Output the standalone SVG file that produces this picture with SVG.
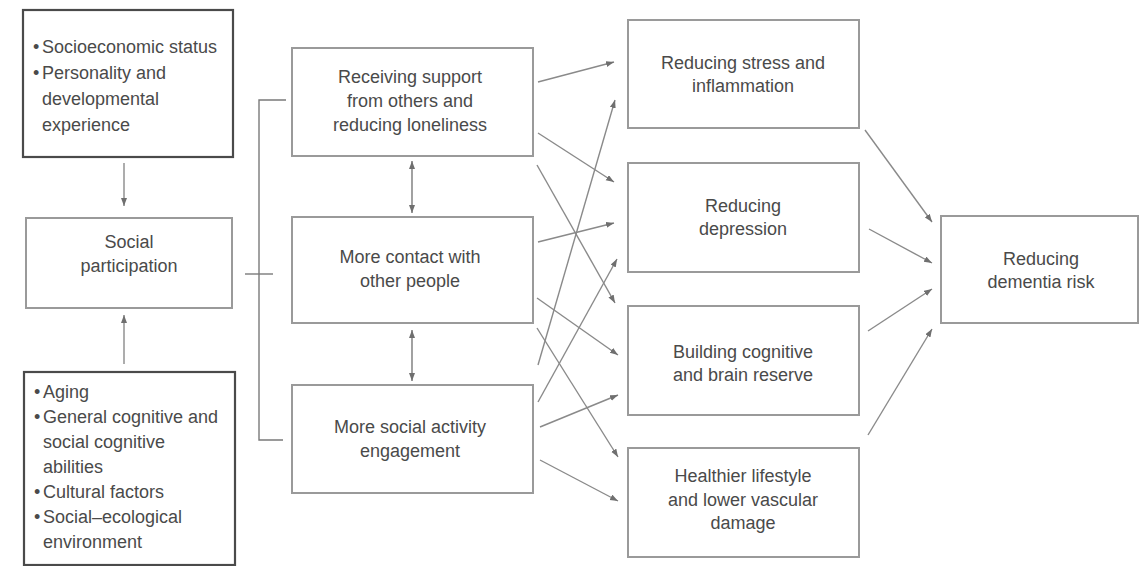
<svg xmlns="http://www.w3.org/2000/svg" width="1140" height="566" viewBox="0 0 1140 566">
<defs>
<marker id="ah" markerUnits="userSpaceOnUse" markerWidth="9" markerHeight="7" refX="8" refY="3" orient="auto-start-reverse">
<path d="M0,0 L8,3 L0,6 Z" fill="#6f6f6f"/>
</marker>
</defs>
<style>
.t{font-family:"Liberation Sans",Arial,sans-serif;font-size:18px;fill:#4a4a4a}
.c{text-anchor:middle}
.bd{fill:#fff;stroke:#4a4a4a;stroke-width:2.2}
.bl{fill:#fff;stroke:#9a9a9a;stroke-width:2}
.ln{fill:none;stroke:#7a7a7a;stroke-width:1.4}
.ar{fill:none;stroke:#8a8a8a;stroke-width:1.4;marker-end:url(#ah)}
.dar{fill:none;stroke:#7a7a7a;stroke-width:1.4;marker-start:url(#ah);marker-end:url(#ah)}
</style>
<rect width="1140" height="566" fill="#fff"/>

<g id="connectors">
<line class="ar" x1="124" y1="163" x2="124" y2="206"/>
<line class="ar" x1="124" y1="364" x2="124" y2="315"/>
<polyline class="ln" points="286,100 259,100 259,440 283,440"/>
<line class="ln" x1="245" y1="274" x2="273" y2="274"/>
<line class="dar" x1="412" y1="161" x2="412" y2="213"/>
<line class="dar" x1="412" y1="330" x2="412" y2="381"/>
<line class="ar" x1="538" y1="82" x2="614" y2="62"/>
<line class="ar" x1="538" y1="133" x2="614" y2="182"/>
<line class="ar" x1="537" y1="165" x2="615" y2="303"/>
<line class="ar" x1="538" y1="242" x2="614" y2="223"/>
<line class="ar" x1="537" y1="298" x2="618" y2="355"/>
<line class="ar" x1="537" y1="328" x2="618" y2="457"/>
<line class="ar" x1="538" y1="365" x2="615" y2="100"/>
<line class="ar" x1="538" y1="402" x2="617" y2="259"/>
<line class="ar" x1="540" y1="427" x2="618" y2="395"/>
<line class="ar" x1="540" y1="460" x2="618" y2="501"/>
<line class="ar" x1="865" y1="130" x2="932" y2="222"/>
<line class="ar" x1="869" y1="229" x2="932" y2="263"/>
<line class="ar" x1="868" y1="331" x2="932" y2="289"/>
<line class="ar" x1="868" y1="435" x2="932" y2="329"/>
</g>

<g id="node-factors-top">
<rect class="bd" x="23" y="10" width="210" height="147"/>
<text class="t" x="33" y="53">•</text><text class="t" x="42" y="53">Socioeconomic status</text>
<text class="t" x="33" y="79">•</text><text class="t" x="42" y="79">Personality and</text>
<text class="t" x="42" y="105">developmental</text>
<text class="t" x="42" y="131">experience</text>
</g>

<g id="node-social-participation">
<rect class="bl" x="26" y="218" width="206" height="90"/>
<text class="t c" x="129" y="248">Social</text>
<text class="t c" x="129" y="272">participation</text>
</g>

<g id="node-factors-bottom">
<rect class="bd" x="24" y="372" width="211" height="193"/>
<text class="t" x="34" y="398">•</text><text class="t" x="43" y="398">Aging</text>
<text class="t" x="34" y="423">•</text><text class="t" x="43" y="423">General cognitive and</text>
<text class="t" x="43" y="448">social cognitive</text>
<text class="t" x="43" y="473">abilities</text>
<text class="t" x="34" y="498">•</text><text class="t" x="43" y="498">Cultural factors</text>
<text class="t" x="34" y="523">•</text><text class="t" x="43" y="523">Social–ecological</text>
<text class="t" x="43" y="548">environment</text>
</g>

<g id="node-receiving-support">
<rect class="bl" x="292" y="48" width="241" height="108"/>
<text class="t c" x="410" y="83">Receiving support</text>
<text class="t c" x="410" y="107">from others and</text>
<text class="t c" x="410" y="131">reducing loneliness</text>
</g>

<g id="node-more-contact">
<rect class="bl" x="292" y="217" width="241" height="106"/>
<text class="t c" x="410" y="263">More contact with</text>
<text class="t c" x="410" y="287">other people</text>
</g>

<g id="node-social-activity">
<rect class="bl" x="292" y="385" width="241" height="108"/>
<text class="t c" x="410" y="433">More social activity</text>
<text class="t c" x="410" y="457">engagement</text>
</g>

<g id="node-stress">
<rect class="bl" x="628" y="20" width="231" height="108"/>
<text class="t c" x="743" y="69">Reducing stress and</text>
<text class="t c" x="743" y="92">inflammation</text>
</g>

<g id="node-depression">
<rect class="bl" x="628" y="163" width="231" height="109"/>
<text class="t c" x="743" y="212">Reducing</text>
<text class="t c" x="743" y="235">depression</text>
</g>

<g id="node-cognitive-reserve">
<rect class="bl" x="628" y="306" width="231" height="109"/>
<text class="t c" x="743" y="358">Building cognitive</text>
<text class="t c" x="743" y="381">and brain reserve</text>
</g>

<g id="node-lifestyle">
<rect class="bl" x="628" y="448" width="231" height="109"/>
<text class="t c" x="743" y="482">Healthier lifestyle</text>
<text class="t c" x="743" y="506">and lower vascular</text>
<text class="t c" x="743" y="529">damage</text>
</g>

<g id="node-dementia">
<rect class="bl" x="941" y="216" width="197" height="107"/>
<text class="t c" x="1041" y="265">Reducing</text>
<text class="t c" x="1041" y="288">dementia risk</text>
</g>
</svg>
